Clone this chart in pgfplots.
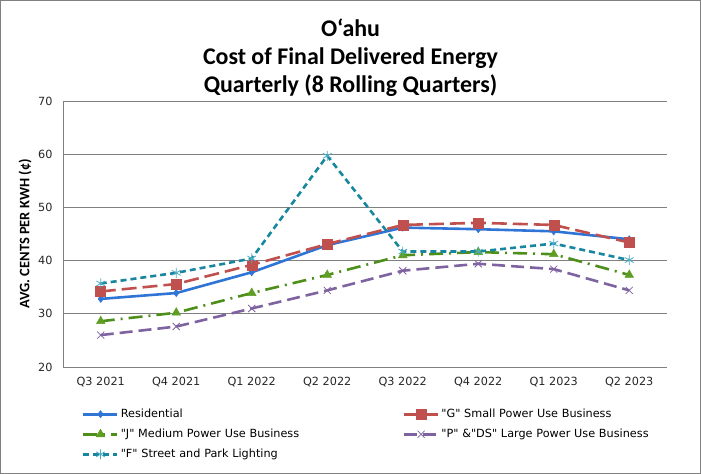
\documentclass[border=0pt]{standalone}
\usepackage{fontspec}
\setmainfont{DejaVu Sans}[Ligatures=TeXOff]
\newfontfamily\carlito{Carlito}
\usepackage{pgfplots}
\pgfplotsset{compat=1.18}
\usetikzlibrary{calc}
\definecolor{cRes}{HTML}{2E75D6}
\definecolor{cG}{HTML}{C0504D}
\definecolor{cJ}{HTML}{4E8F1B}
\definecolor{cJm}{HTML}{5E9E22}
\definecolor{cP}{HTML}{7F63A1}
\definecolor{cF}{HTML}{17869E}
\definecolor{cFm}{HTML}{4BACC6}
\begin{document}
\begin{tikzpicture}
\begin{axis}[name=ax, scale only axis, width=604bp, height=266bp,
  xmin=-0.5, xmax=7.5, ymin=20, ymax=70, ytick={20,30,...,70},
  xtick={0,...,7},
  xticklabels={Q3 2021,Q4 2021,Q1 2022,Q2 2022,Q3 2022,Q4 2022,Q1 2023,Q2 2023},
  axis x line*=bottom, axis y line*=left,
  axis line style={draw=black!50, -, line width=0.8bp},
  ymajorgrids, grid style={draw=black!50, line width=0.8bp},
  major tick length=0pt,
  tick label style={font=\fontsize{11.3}{13}\selectfont, text=black!85},
  /pgf/number format/assume math mode=true,
  yticklabel style={xshift=-7bp},
  xticklabel style={yshift=-7bp},
  ylabel={\carlito\bfseries AVG. CENTS PER KWH (¢)},
  ylabel style={at={(axis description cs:-0.0629,0.5)}, anchor=center, font=\fontsize{14.5}{16}\selectfont},
  legend image code/.code={\draw[mark repeat=2,mark phase=2,#1] plot coordinates {(0bp,0bp) (17bp,0bp) (34bp,0bp)};},
  legend columns=2,
  legend cell align=left,
  legend style={at={(axis description cs:0,0)}, anchor=north west, xshift=16bp, yshift=-38bp,
    draw=none, fill=none, font=\fontsize{11.3}{13}\selectfont, row sep=6bp,
    nodes={text width=280bp, inner sep=2bp}},
  every axis plot/.append style={line width=2.6bp},
]
\addplot[cRes, solid, mark=diamond*, mark size=3.6bp, mark options={solid, line width=0.5bp}] coordinates {
(0,32.8) (1,33.9) (2,37.8) (3,42.9) (4,46.2) (5,45.9) (6,45.5) (7,44.0)};
\addlegendentry{Residential}
\addplot[cG, dash pattern=on 15bp off 6bp, mark=square*, mark size=5bp, mark options={solid, line width=0.5bp}] coordinates {
(0,34.2) (1,35.6) (2,39.2) (3,43.1) (4,46.7) (5,47.1) (6,46.7) (7,43.4)};
\addlegendentry{"G" Small Power Use Business}
\addplot[cJ, dash pattern=on 14bp off 6bp on 2bp off 6bp, mark=triangle*, mark size=5bp, mark options={solid, fill=cJm, draw=cJm, line width=0.5bp}] coordinates {
(0,28.6) (1,30.2) (2,33.9) (3,37.3) (4,41.0) (5,41.6) (6,41.2) (7,37.3)};
\addlegendentry{"J" Medium Power Use Business}
\addplot[cP, dash pattern=on 13bp off 6bp, mark=x, mark size=5bp, mark options={solid, line width=0.8bp}] coordinates {
(0,26.0) (1,27.6) (2,31.0) (3,34.4) (4,38.1) (5,39.4) (6,38.4) (7,34.4)};
\addlegendentry{"P" \&"DS" Large Power Use Business}
\addplot[cF, dash pattern=on 6bp off 4bp, mark=asterisk, mark size=5bp, mark options={solid, draw=cFm, line width=0.8bp}] coordinates {
(0,35.7) (1,37.7) (2,40.4) (3,59.7) (4,41.7) (5,41.7) (6,43.2) (7,40.1)};
\addlegendentry{"F" Street and Park Lighting}
\end{axis}
\node[align=center, font=\carlito\bfseries\fontsize{24}{28}\selectfont] at ($(ax.north)+(-14.5bp,43.5bp)$)
  {O‘ahu\\Cost of Final Delivered Energy\\Quarterly (8 Rolling Quarters)};
\draw[black!50, line width=0.8bp] ($(ax.south west)+(-62.6bp,-106.6bp)$) rectangle ($(ax.north east)+(33.6bp,100.6bp)$);
\pgfresetboundingbox
\path[use as bounding box] ($(ax.south west)+(-63bp,-107bp)$) rectangle ($(ax.north east)+(34bp,101bp)$);
\end{tikzpicture}
\end{document}
